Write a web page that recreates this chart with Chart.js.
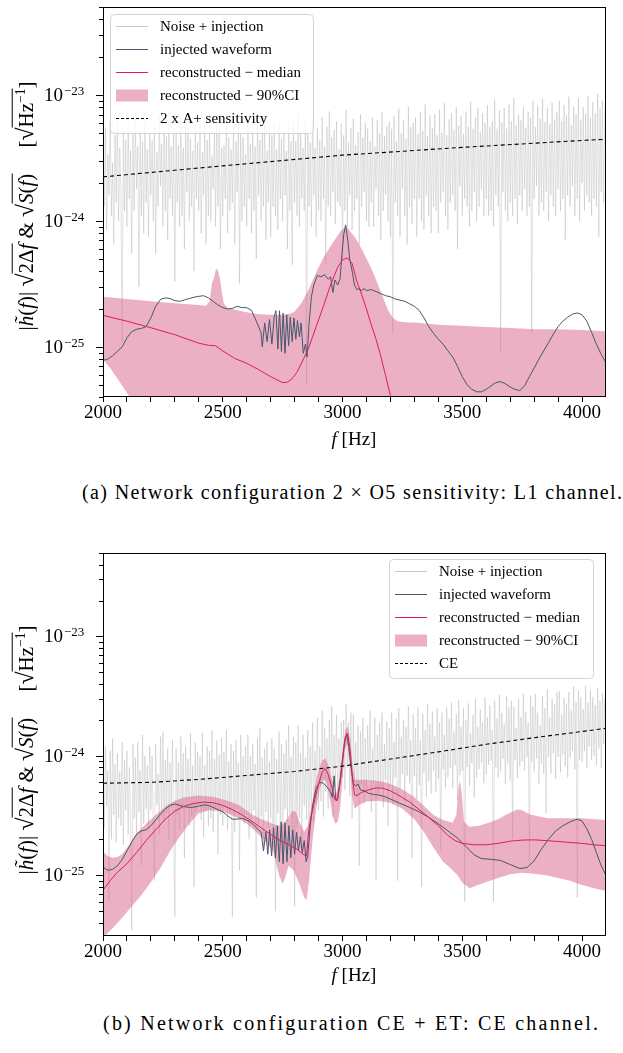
<!DOCTYPE html>
<html>
<head>
<meta charset="utf-8">
<script src="https://cdn.jsdelivr.net/npm/chart.js@4.4.1/dist/chart.umd.min.js"></script>
<style>
html, body { margin: 0; padding: 0; background: #fff; }
body { width: 623px; height: 1053px; position: relative; overflow: hidden; font-family: "Liberation Serif", "Times New Roman", serif; color: #000; }
canvas { position: absolute; left: 0; }
#c1 { top: 0; }
#c2 { top: 546px; }
.ylab { position: absolute; white-space: nowrap; font-size: 21px; line-height: 1.3; transform: translate(-50%, -50%) rotate(-90deg); }
.ov { border-top: 1.1px solid #000; padding-top: 1px; }
.rad { font-size: 1.12em; }
.xlab { position: absolute; white-space: nowrap; font-size: 19px; transform: translate(-50%, -50%); }
.cap { position: absolute; white-space: nowrap; font-size: 20px; transform: translateY(-50%); }
</style>
</head>
<body>
<canvas id="c1" width="623" height="460"></canvas>
<canvas id="c2" width="623" height="460"></canvas>

<div class="ylab" style="left:25px; top:206px;">|<i>h&#771;</i>(<i>f</i>)| <span class="rad">√</span><span class="ov">2Δ<i>f</i></span> &amp; <span class="rad">√</span><span class="ov"><i>S</i>(<i>f</i>)</span>&nbsp;&nbsp;&nbsp;&nbsp; [<span class="rad">√</span><span class="ov">Hz<sup style="font-size:0.65em">−1</sup></span>]</div>
<div class="ylab" style="left:25px; top:750px;">|<i>h&#771;</i>(<i>f</i>)| <span class="rad">√</span><span class="ov">2Δ<i>f</i></span> &amp; <span class="rad">√</span><span class="ov"><i>S</i>(<i>f</i>)</span>&nbsp;&nbsp;&nbsp;&nbsp; [<span class="rad">√</span><span class="ov">Hz<sup style="font-size:0.65em">−1</sup></span>]</div>

<div class="xlab" style="left:354px; top:439px;"><i>f</i> [Hz]</div>
<div class="xlab" style="left:354px; top:975px;"><i>f</i> [Hz]</div>

<div class="cap" id="capA" style="left:82px; top:492px;">(a) Network configuration 2 × O5 sensitivity: L1 channel.</div>
<div class="cap" id="capB" style="left:103px; top:1023px;">(b) Network configuration CE + ET: CE channel.</div>

<script>
// ---- panel (a): 2 x O5, L1 channel ----
// noise is sampled every 5 Hz from 2000 Hz
const topNoiseStart = 2000;
const topNoiseStep = 5;
const topNoise = [
  4.2e-24, 1.3e-24, 5.5e-24, 0.85e-24, 3.4e-24, 1.6e-24, 6.1e-24, 1.1e-24, 2.9e-24, 0.65e-24, 4.8e-24, 1.4e-24, 6.0e-24, 1.0e-24, 3.8e-24, 1.7e-24, 0.11e-24, 5.2e-24, 1.2e-24, 4.4e-24,
  0.9e-24, 5.8e-24, 1.5e-24, 3.6e-24, 0.55e-24, 4.9e-24, 1.2e-24, 6.3e-24, 1.8e-24, 3.9e-24, 0.3e-24, 5.1e-24, 1.1e-24, 4.3e-24, 0.8e-24, 6.4e-24, 1.4e-24, 3.7e-24, 0.75e-24, 5.0e-24,
  1.6e-24, 4.4e-24, 1.0e-24, 5.6e-24, 0.55e-24, 3.5e-24, 1.3e-24, 6.8e-24, 1.9e-24, 4.1e-24, 0.9e-24, 5.3e-24, 1.2e-24, 4.7e-24, 0.7e-24, 6.0e-24, 1.5e-24, 3.9e-24, 1.1e-24, 5.5e-24,
  0.33e-24, 5.3e-24, 1.4e-24, 4.0e-24, 0.9e-24, 6.5e-24, 1.1e-24, 3.8e-24, 0.6e-24, 5.7e-24, 1.7e-24, 6.2e-24, 1.0e-24, 4.5e-24, 1.3e-24, 3.6e-24, 0.4e-24, 5.9e-24, 1.5e-24, 4.2e-24,
  1.2e-24, 5.9e-24, 0.8e-24, 3.5e-24, 1.6e-24, 6.6e-24, 0.65e-24, 4.4e-24, 1.1e-24, 5.1e-24, 1.0e-24, 3.3e-24, 1.8e-24, 4.9e-24, 0.9e-24, 7.0e-24, 1.3e-24, 5.4e-24, 0.6e-24, 3.8e-24,
  1.1e-24, 4.0e-24, 1.5e-24, 7.0e-24, 0.8e-24, 4.6e-24, 1.2e-24, 3.7e-24, 1.4e-24, 5.8e-24, 0.65e-24, 4.3e-24, 1.7e-24, 6.2e-24, 0.32e-24, 5.0e-24, 1.0e-24, 4.6e-24, 1.3e-24, 3.4e-24,
  0.9e-24, 6.3e-24, 1.5e-24, 4.1e-24, 0.8e-24, 5.5e-24, 1.2e-24, 3.9e-24, 0.5e-24, 6.7e-24, 1.6e-24, 4.4e-24, 1.0e-24, 5.1e-24, 1.3e-24, 6.9e-24, 0.7e-24, 3.6e-24, 1.4e-24, 5.3e-24,
  0.75e-24, 4.8e-24, 1.3e-24, 5.9e-24, 1.1e-24, 3.7e-24, 0.85e-24, 6.0e-24, 1.5e-24, 4.5e-24, 1.0e-24, 5.2e-24, 1.6e-24, 3.6e-24, 0.6e-24, 5.7e-24, 1.2e-24, 4.3e-24, 0.45e-24, 6.4e-24,
  1.4e-24, 4.3e-24, 1.1e-24, 7.2e-24, 0.9e-24, 4.9e-24, 1.5e-24, 3.8e-24, 1.2e-24, 6.1e-24, 0.05e-24, 5.0e-24, 1.3e-24, 4.2e-24, 0.9e-24, 6.7e-24, 1.6e-24, 3.8e-24, 0.75e-24, 5.5e-24,
  1.2e-24, 4.4e-24, 1.0e-24, 6.7e-24, 1.5e-24, 3.9e-24, 0.45e-24, 5.6e-24, 1.3e-24, 7.4e-24, 1.1e-24, 4.6e-24, 1.7e-24, 5.3e-24, 0.95e-24, 6.2e-24, 1.4e-24, 3.7e-24, 1.3e-24, 5.9e-24,
  0.5e-24, 4.8e-24, 1.2e-24, 7.6e-24, 0.9e-24, 4.2e-24, 1.6e-24, 5.5e-24, 0.85e-24, 6.5e-24, 1.2e-24, 4.0e-24, 1.5e-24, 5.1e-24, 0.65e-24, 7.0e-24, 1.3e-24, 4.6e-24, 1.7e-24, 6.0e-24,
  1.0e-24, 5.4e-24, 0.9e-24, 4.3e-24, 1.4e-24, 6.6e-24, 0.9e-24, 3.9e-24, 1.8e-24, 6.3e-24, 1.1e-24, 5.0e-24, 0.7e-24, 7.3e-24, 1.2e-24, 4.7e-24, 1.6e-24, 5.6e-24, 1.0e-24, 6.1e-24,
  0.75e-24, 5.4e-24, 0.13e-24, 6.8e-24, 1.4e-24, 4.3e-24, 1.1e-24, 7.8e-24, 0.75e-24, 5.0e-24, 1.8e-24, 6.3e-24, 1.1e-24, 4.5e-24, 0.65e-24, 8.1e-24, 1.3e-24, 5.6e-24, 0.95e-24, 6.0e-24,
  1.5e-24, 6.6e-24, 0.75e-24, 4.9e-24, 1.5e-24, 7.3e-24, 1.0e-24, 5.2e-24, 0.85e-24, 8.4e-24, 1.6e-24, 4.7e-24, 1.1e-24, 6.9e-24, 0.8e-24, 5.5e-24, 1.3e-24, 7.0e-24, 1.2e-24, 4.8e-24,
  0.8e-24, 7.7e-24, 1.4e-24, 5.0e-24, 1.7e-24, 8.6e-24, 1.1e-24, 4.8e-24, 0.85e-24, 6.4e-24, 1.4e-24, 7.1e-24, 1.6e-24, 5.3e-24, 1.2e-24, 8.0e-24, 0.6e-24, 5.7e-24, 1.9e-24, 6.8e-24,
  1.1e-24, 4.9e-24, 1.5e-24, 7.4e-24, 1.3e-24, 5.6e-24, 0.9e-24, 8.9e-24, 1.2e-24, 5.4e-24, 1.7e-24, 6.6e-24, 1.0e-24, 7.9e-24, 1.3e-24, 5.1e-24, 1.8e-24, 7.2e-24, 1.1e-24, 6.0e-24,
  1.5e-24, 8.3e-24, 1.1e-24, 5.6e-24, 1.2e-24, 6.2e-24, 0.9e-24, 9.2e-24, 1.6e-24, 5.4e-24, 1.3e-24, 7.6e-24, 0.09e-24, 6.1e-24, 1.7e-24, 7.9e-24, 1.2e-24, 5.4e-24, 1.0e-24, 8.4e-24,
  1.4e-24, 6.2e-24, 1.1e-24, 9.5e-24, 1.5e-24, 5.8e-24, 0.95e-24, 7.0e-24, 1.6e-24, 6.3e-24, 1.2e-24, 8.0e-24, 1.8e-24, 5.5e-24, 1.1e-24, 7.4e-24, 1.3e-24, 6.6e-24, 0.13e-24, 9.0e-24,
  1.5e-24, 5.6e-24, 1.9e-24, 8.2e-24, 1.1e-24, 6.5e-24, 1.4e-24, 9.4e-24, 1.2e-24, 6.1e-24, 1.7e-24, 7.9e-24, 1.0e-24, 5.9e-24, 1.6e-24, 8.7e-24, 1.3e-24, 6.4e-24, 1.1e-24, 7.3e-24,
  1.8e-24, 9.0e-24, 1.2e-24, 6.2e-24, 1.5e-24, 8.3e-24, 0.7e-24, 6.9e-24, 1.6e-24, 9.7e-24, 1.3e-24, 5.8e-24, 1.9e-24, 8.1e-24, 1.1e-24, 7.0e-24, 1.5e-24, 9.5e-24, 1.0e-24, 6.3e-24,
  2.0e-24, 8.0e-24, 1.2e-24, 7.1e-24, 1.6e-24, 9.8e-24, 1.4e-24, 6.6e-24, 1.1e-24, 8.8e-24, 1.5e-24, 7.2e-24, 1.3e-24, 10.2e-24, 0.75e-24, 7.8e-24, 1.7e-24, 9.0e-24, 1.4e-24, 6.9e-24,
  10.5e-24
];
const topInjected = [
  [2000, 7.8e-26], [2020, 8.0e-26], [2040, 8.5e-26], [2060, 9.2e-26], [2080, 1.0e-25], [2100, 1.18e-25],
  [2120, 1.32e-25], [2140, 1.38e-25], [2160, 1.40e-25], [2180, 1.45e-25], [2200, 1.7e-25], [2220, 2.1e-25],
  [2240, 2.38e-25], [2260, 2.45e-25], [2280, 2.42e-25], [2300, 2.33e-25], [2320, 2.3e-25], [2340, 2.36e-25],
  [2360, 2.42e-25], [2380, 2.48e-25], [2400, 2.52e-25], [2420, 2.55e-25], [2440, 2.45e-25], [2460, 2.3e-25],
  [2480, 2.15e-25], [2500, 2.05e-25], [2520, 2.0e-25], [2540, 2.02e-25], [2560, 2.1e-25], [2580, 2.05e-25],
  [2600, 2.05e-25], [2620, 1.95e-25], [2640, 1.6e-25], [2660, 1.3e-25],
  [2665, 1.0e-25], [2675, 1.55e-25], [2685, 1.1e-25], [2695, 1.65e-25], [2705, 1.05e-25], [2715, 1.75e-25],
  [2722, 1.94e-25], [2730, 9.6e-26], [2737, 1.94e-25], [2745, 9.2e-26], [2752, 1.85e-25], [2760, 8.9e-26],
  [2767, 1.8e-25], [2775, 1.02e-25], [2782, 1.72e-25], [2790, 1.1e-25], [2797, 1.7e-25], [2805, 1.15e-25],
  [2812, 1.62e-25], [2820, 1.2e-25], [2827, 1.55e-25], [2836, 8.9e-26], [2845, 1.05e-25], [2852, 8.3e-26],
  [2860, 1.5e-25], [2870, 2.5e-25], [2880, 3.1e-25], [2895, 3.7e-25], [2910, 3.6e-25], [2925, 3.75e-25],
  [2940, 3.45e-25], [2950, 3.6e-25], [2960, 2.7e-25], [2968, 3.4e-25], [2980, 3.1e-25], [2990, 3.5e-25],
  [2998, 5.5e-25], [3005, 7.8e-25], [3013, 9.3e-25], [3022, 7.0e-25], [3030, 5.0e-25], [3040, 4.0e-25],
  [3050, 3.1e-25], [3060, 2.85e-25], [3070, 2.9e-25], [3080, 2.8e-25], [3090, 2.9e-25], [3100, 2.8e-25],
  [3120, 2.85e-25], [3140, 2.75e-25], [3160, 2.65e-25], [3180, 2.55e-25], [3200, 2.5e-25], [3220, 2.4e-25],
  [3240, 2.35e-25], [3260, 2.3e-25], [3280, 2.2e-25], [3300, 2.1e-25], [3320, 1.95e-25], [3340, 1.7e-25],
  [3360, 1.45e-25], [3380, 1.28e-25], [3400, 1.15e-25], [3420, 1.05e-25], [3440, 9.3e-26], [3460, 8.3e-26],
  [3480, 7.0e-26], [3500, 5.8e-26], [3520, 5.0e-26], [3540, 4.6e-26], [3560, 4.4e-26], [3580, 4.4e-26],
  [3600, 4.6e-26], [3620, 4.9e-26], [3640, 5.2e-26], [3660, 5.3e-26], [3680, 5.1e-26], [3700, 4.8e-26],
  [3720, 4.6e-26], [3740, 4.5e-26], [3760, 4.9e-26], [3780, 5.8e-26], [3800, 6.8e-26], [3820, 8.0e-26],
  [3840, 9.3e-26], [3860, 1.08e-25], [3880, 1.26e-25], [3900, 1.45e-25], [3920, 1.6e-25], [3940, 1.72e-25],
  [3960, 1.82e-25], [3980, 1.86e-25], [4000, 1.8e-25], [4020, 1.6e-25], [4040, 1.3e-25], [4060, 1.05e-25],
  [4080, 8.7e-26], [4100, 7.5e-26]
];
const topMedian = [
  [2000, 1.78e-25], [2100, 1.6e-25], [2200, 1.42e-25], [2300, 1.25e-25], [2400, 1.07e-25], [2440, 1.03e-25],
  [2470, 1.02e-25], [2500, 9.3e-26], [2550, 8.1e-26], [2600, 7.4e-26], [2650, 6.6e-26], [2700, 5.8e-26],
  [2750, 5.2e-26], [2770, 5.25e-26], [2790, 5.6e-26], [2810, 6.3e-26], [2830, 7.5e-26], [2860, 1.0e-25],
  [2890, 1.45e-25], [2920, 2.1e-25], [2950, 3.1e-25], [2980, 4.3e-25], [3000, 4.9e-25], [3020, 5.1e-25],
  [3040, 4.6e-25], [3060, 3.3e-25], [3080, 2.6e-25], [3100, 2.0e-25], [3120, 1.5e-25], [3140, 1.15e-25],
  [3160, 8.4e-26], [3180, 5.9e-26], [3200, 4.1e-26], [3220, 2.8e-26]
];
const topCiUpper = [
  [2000, 2.5e-25], [2100, 2.4e-25], [2200, 2.3e-25], [2300, 2.22e-25], [2400, 2.15e-25], [2430, 2.12e-25],
  [2445, 2.3e-25], [2455, 3.2e-25], [2465, 3.6e-25], [2472, 4.2e-25], [2480, 4.0e-25], [2488, 3.5e-25],
  [2495, 2.8e-25], [2505, 2.2e-25], [2520, 2.05e-25], [2560, 1.95e-25], [2600, 1.88e-25], [2650, 1.82e-25],
  [2700, 1.8e-25], [2750, 1.79e-25], [2780, 1.83e-25], [2800, 1.9e-25], [2830, 2.25e-25], [2860, 2.9e-25],
  [2890, 3.9e-25], [2920, 5.1e-25], [2950, 6.3e-25], [2970, 7.2e-25], [2990, 8.2e-25], [3010, 8.9e-25],
  [3020, 8.9e-25], [3031, 8.3e-25], [3050, 7.5e-25], [3070, 6.5e-25], [3090, 5.5e-25], [3110, 4.6e-25],
  [3130, 3.8e-25], [3150, 3.05e-25], [3170, 2.45e-25], [3190, 1.95e-25], [3210, 1.7e-25], [3230, 1.6e-25],
  [3260, 1.57e-25], [3300, 1.56e-25], [3400, 1.5e-25], [3500, 1.47e-25], [3600, 1.44e-25], [3700, 1.41e-25],
  [3800, 1.38e-25], [3900, 1.38e-25], [4000, 1.36e-25], [4100, 1.33e-25]
];
const topCiLower = [
  [2000, 8.0e-26], [2030, 6.8e-26], [2060, 5.6e-26], [2090, 4.6e-26], [2120, 3.8e-26], [2150, 3.1e-26],
  [2200, 2.2e-26], [2300, 1.5e-26], [3000, 1.2e-26], [4100, 1.0e-26]
];
const topSensitivity = [
  [2000, 2.24e-24], [2500, 2.74e-24], [3000, 3.33e-24], [3500, 3.84e-24], [4000, 4.36e-24], [4100, 4.45e-24]
];

// ---- panel (b): CE + ET, CE channel ----
const botNoiseStart = 2000;
const botNoiseStep = 5;
const botNoise = [
  9.0e-25, 2.5e-25, 12e-25, 3.8e-25, 7.5e-25, 0.6e-25, 11e-25, 2.0e-25, 14e-25, 3.2e-25, 8.5e-25, 1.9e-25, 10.5e-25, 3.0e-25, 7.4e-25, 2.6e-25, 13e-25, 1.8e-25, 9.2e-25, 3.5e-25,
  11e-25, 2.2e-25, 8.0e-25, 3.1e-25, 0.35e-25, 12.5e-25, 3.0e-25, 9.6e-25, 2.1e-25, 13e-25, 3.4e-25, 7.6e-25, 1.2e-25, 15e-25, 2.7e-25, 10e-25, 3.6e-25, 8.3e-25, 2.4e-25, 12e-25,
  3.5e-25, 10e-25, 2.6e-25, 0.9e-25, 12.5e-25, 3.9e-25, 7.0e-25, 2.2e-25, 14.5e-25, 3.1e-25, 16e-25, 2.8e-25, 9.2e-25, 3.3e-25, 11.5e-25, 2.0e-25, 8.8e-25, 3.7e-25, 13.5e-25, 2.5e-25,
  0.45e-25, 11.5e-25, 3.2e-25, 8.8e-25, 2.4e-25, 14.5e-25, 3.6e-25, 10.5e-25, 1.4e-25, 12e-25, 3.9e-25, 9.4e-25, 2.6e-25, 15.5e-25, 3.1e-25, 8.3e-25, 0.8e-25, 13e-25, 3.4e-25, 10.8e-25,
  3.9e-25, 9.9e-25, 2.9e-25, 15.5e-25, 2.1e-25, 8.3e-25, 3.4e-25, 12e-25, 2.6e-25, 11e-25, 3.0e-25, 16.5e-25, 2.3e-25, 9.5e-25, 3.7e-25, 13.5e-25, 1.5e-25, 10.2e-25, 3.2e-25, 14e-25,
  2.6e-25, 10.8e-25, 3.7e-25, 16.5e-25, 2.4e-25, 9.0e-25, 3.3e-25, 12.5e-25, 0.45e-25, 11e-25, 2.3e-25, 13.5e-25, 3.6e-25, 8.7e-25, 1.1e-25, 15e-25, 3.2e-25, 9.9e-25, 2.7e-25, 12e-25,
  3.2e-25, 15e-25, 2.0e-25, 10e-25, 2.9e-25, 12.5e-25, 3.5e-25, 8.6e-25, 0.65e-25, 14e-25, 2.7e-25, 17e-25, 3.1e-25, 9.7e-25, 1.7e-25, 11.5e-25, 3.4e-25, 13e-25, 2.5e-25, 8.9e-25,
  3.0e-25, 14e-25, 2.4e-25, 11.5e-25, 0.5e-25, 9.4e-25, 3.3e-25, 16e-25, 2.6e-25, 12.5e-25, 1.3e-25, 10.5e-25, 3.6e-25, 13.5e-25, 2.8e-25, 18e-25, 3.3e-25, 9.8e-25, 2.2e-25, 14.5e-25,
  0.55e-25, 13e-25, 2.5e-25, 18e-25, 3.0e-25, 10.5e-25, 1.6e-25, 15e-25, 3.8e-25, 9.7e-25, 2.9e-25, 16.5e-25, 2.2e-25, 12e-25, 3.5e-25, 19e-25, 2.8e-25, 11e-25, 4.0e-25, 21e-25,
  3.5e-25, 12e-25, 4.2e-25, 24e-25, 3.1e-25, 17e-25, 5.0e-25, 14e-25, 3.6e-25, 20e-25, 4.4e-25, 26e-25, 3.1e-25, 15e-25, 5.5e-25, 22e-25, 4.4e-25, 14e-25, 6.0e-25, 19e-25,
  6.5e-25, 20e-25, 5.2e-25, 27e-25, 8.0e-25, 19e-25, 4.6e-25, 23e-25, 3.0e-25, 22e-25, 6.0e-25, 13e-25, 4.6e-25, 18e-25, 1.2e-25, 16e-25, 5.8e-25, 21e-25, 4.0e-25, 14e-25,
  5.2e-25, 18e-25, 6.3e-25, 24e-25, 3.4e-25, 11.5e-25, 6.0e-25, 21e-25, 0.9e-25, 15e-25, 4.8e-25, 19e-25, 5.5e-25, 23e-25, 3.7e-25, 12.5e-25, 6.3e-25, 19.5e-25, 2.6e-25, 17e-25,
  5.5e-25, 23e-25, 3.9e-25, 13e-25, 6.6e-25, 20.5e-25, 0.9e-25, 25e-25, 5.2e-25, 14.5e-25, 7.0e-25, 20e-25, 4.1e-25, 17.5e-25, 6.8e-25, 26e-25, 5.9e-25, 13.5e-25, 1.4e-25, 22e-25,
  6.8e-25, 17e-25, 4.3e-25, 25.5e-25, 5.7e-25, 13.5e-25, 0.8e-25, 22.5e-25, 7.2e-25, 16.5e-25, 4.5e-25, 27e-25, 6.1e-25, 18.5e-25, 4.8e-25, 23.5e-25, 7.5e-25, 14.5e-25, 5.0e-25, 25e-25,
  6.4e-25, 19e-25, 1.6e-25, 23e-25, 7.7e-25, 15e-25, 5.3e-25, 25.5e-25, 6.6e-25, 20.5e-25, 7.9e-25, 28e-25, 5.4e-25, 16e-25, 8.4e-25, 22.5e-25, 4.2e-25, 29.5e-25, 6.9e-25, 17.5e-25,
  7.5e-25, 25e-25, 0.6e-25, 20e-25, 8.1e-25, 27.5e-25, 5.6e-25, 15.5e-25, 8.7e-25, 22e-25, 4.5e-25, 30e-25, 6.6e-25, 17.5e-25, 7.7e-25, 24.5e-25, 8.8e-25, 19e-25, 5.9e-25, 31e-25,
  7.0e-25, 21e-25, 8.4e-25, 26.5e-25, 9.1e-25, 16.5e-25, 0.6e-25, 29e-25, 8.0e-25, 20.5e-25, 6.6e-25, 32.5e-25, 7.4e-25, 23e-25, 9.5e-25, 18.5e-25, 5.8e-25, 31.5e-25, 8.6e-25, 25.5e-25,
  6.2e-25, 29e-25, 2.0e-25, 26e-25, 9.3e-25, 17e-25, 6.5e-25, 30e-25, 8.2e-25, 21e-25, 9.0e-25, 33e-25, 7.6e-25, 23.5e-25, 9.8e-25, 19e-25, 1.3e-25, 32e-25, 8.9e-25, 26e-25,
  7.4e-25, 33e-25, 9.5e-25, 23e-25, 5.8e-25, 18e-25, 8.6e-25, 32e-25, 7.1e-25, 25e-25, 3.3e-25, 36e-25, 9.8e-25, 21e-25, 7.1e-25, 30e-25, 10.5e-25, 27e-25, 6.4e-25, 34e-25,
  9.8e-25, 35e-25, 7.3e-25, 22e-25, 10.2e-25, 30.5e-25, 8.2e-25, 27.5e-25, 6.6e-25, 34.5e-25, 9.6e-25, 24e-25, 11e-25, 38e-25, 7.7e-25, 28.5e-25, 0.65e-25, 35e-25, 9.3e-25, 31e-25,
  8.9e-25, 24.5e-25, 11e-25, 38.5e-25, 7.9e-25, 28e-25, 12e-25, 35.5e-25, 9.3e-25, 31e-25, 10e-25, 26.5e-25, 8.4e-25, 37e-25, 11.5e-25, 29e-25, 7.9e-25, 33.5e-25, 12.5e-25, 30e-25,
  13e-25
];
const botInjected = [
  [2000, 1.17e-25], [2020, 1.1e-25], [2040, 1.12e-25], [2060, 1.2e-25], [2080, 1.35e-25], [2100, 1.6e-25],
  [2120, 1.9e-25], [2140, 2.2e-25], [2160, 2.35e-25], [2180, 2.4e-25], [2200, 2.6e-25], [2220, 2.9e-25],
  [2240, 3.25e-25], [2260, 3.6e-25], [2280, 3.85e-25], [2300, 3.95e-25], [2320, 3.85e-25], [2340, 3.75e-25],
  [2360, 3.7e-25], [2380, 3.72e-25], [2400, 3.8e-25], [2420, 3.88e-25], [2440, 3.85e-25], [2460, 3.7e-25],
  [2480, 3.55e-25], [2500, 3.4e-25], [2520, 3.15e-25], [2540, 2.95e-25], [2560, 2.95e-25], [2580, 3.0e-25],
  [2600, 2.9e-25], [2620, 2.75e-25], [2640, 2.5e-25], [2660, 2.3e-25],
  [2670, 1.6e-25], [2680, 2.3e-25], [2688, 1.5e-25], [2696, 2.4e-25], [2704, 1.45e-25], [2712, 2.5e-25],
  [2720, 1.4e-25], [2728, 2.6e-25], [2736, 1.3e-25], [2744, 2.8e-25], [2752, 1.25e-25], [2760, 2.75e-25],
  [2768, 1.3e-25], [2776, 2.6e-25], [2784, 1.4e-25], [2792, 2.4e-25], [2800, 1.5e-25], [2808, 2.3e-25],
  [2816, 1.6e-25], [2824, 2.1e-25], [2832, 1.55e-25], [2840, 1.95e-25], [2848, 1.3e-25], [2855, 1.45e-25],
  [2865, 2.6e-25], [2875, 3.8e-25], [2890, 5.4e-25], [2905, 6.0e-25], [2920, 5.9e-25], [2935, 5.5e-25],
  [2950, 5.0e-25], [2958, 4.5e-25], [2965, 6.8e-25], [2972, 4.3e-25], [2980, 4.4e-25], [2990, 6.0e-25],
  [3000, 9.0e-25], [3010, 1.35e-24], [3018, 1.5e-24], [3026, 1.2e-24], [3036, 8.0e-25], [3045, 5.9e-25],
  [3055, 5.6e-25], [3065, 5.8e-25], [3075, 5.2e-25], [3090, 5.1e-25], [3110, 4.85e-25], [3130, 4.75e-25],
  [3150, 4.7e-25], [3170, 4.6e-25], [3200, 4.35e-25], [3240, 4.0e-25], [3280, 3.7e-25], [3320, 3.4e-25],
  [3360, 3.05e-25], [3400, 2.7e-25], [3440, 2.35e-25], [3480, 2.05e-25], [3520, 1.7e-25], [3550, 1.48e-25],
  [3580, 1.38e-25], [3620, 1.36e-25], [3660, 1.33e-25], [3700, 1.23e-25], [3740, 1.14e-25], [3770, 1.16e-25],
  [3800, 1.32e-25], [3830, 1.65e-25], [3860, 2.0e-25], [3890, 2.35e-25], [3920, 2.6e-25], [3950, 2.8e-25],
  [3980, 2.95e-25], [4000, 2.85e-25], [4020, 2.45e-25], [4040, 2.0e-25], [4060, 1.55e-25], [4080, 1.2e-25],
  [4100, 1.0e-25]
];
const botMedian = [
  [2000, 7.5e-26], [2030, 9.0e-26], [2060, 1.06e-25], [2100, 1.25e-25], [2140, 1.55e-25], [2180, 1.95e-25],
  [2220, 2.4e-25], [2260, 2.95e-25], [2300, 3.45e-25], [2340, 3.8e-25], [2380, 4.0e-25], [2420, 4.1e-25],
  [2460, 4.05e-25], [2500, 3.85e-25], [2540, 3.55e-25], [2580, 3.2e-25], [2620, 2.85e-25], [2660, 2.5e-25],
  [2700, 2.2e-25], [2740, 1.95e-25], [2780, 1.78e-25], [2810, 1.65e-25], [2835, 1.5e-25], [2850, 1.45e-25],
  [2857, 2.2e-25], [2870, 3.2e-25], [2885, 4.4e-25], [2900, 5.8e-25], [2915, 7.3e-25], [2928, 7.8e-25],
  [2940, 7.0e-25], [2955, 5.5e-25], [2968, 4.3e-25], [2978, 4.2e-25], [2990, 6.2e-25], [3000, 9.5e-25],
  [3010, 1.4e-24], [3020, 1.55e-24], [3030, 1.2e-24], [3040, 7.0e-25], [3050, 4.7e-25], [3060, 4.65e-25],
  [3080, 4.95e-25], [3110, 5.2e-25], [3140, 5.4e-25], [3170, 5.35e-25], [3200, 5.1e-25], [3240, 4.6e-25],
  [3280, 4.1e-25], [3320, 3.55e-25], [3360, 3.05e-25], [3400, 2.6e-25], [3440, 2.15e-25], [3470, 1.95e-25],
  [3500, 1.85e-25], [3550, 1.8e-25], [3600, 1.8e-25], [3650, 1.85e-25], [3700, 1.93e-25], [3750, 1.97e-25],
  [3800, 1.98e-25], [3850, 1.95e-25], [3900, 1.92e-25], [3950, 1.88e-25], [4000, 1.85e-25], [4050, 1.8e-25],
  [4100, 1.77e-25]
];
const botCiUpper = [
  [2000, 1.58e-25], [2020, 1.45e-25], [2040, 1.4e-25], [2060, 1.42e-25], [2080, 1.5e-25], [2110, 1.8e-25],
  [2140, 2.25e-25], [2180, 2.7e-25], [2220, 3.2e-25], [2260, 3.75e-25], [2300, 4.2e-25], [2340, 4.5e-25],
  [2400, 4.65e-25], [2460, 4.55e-25], [2520, 4.2e-25], [2570, 3.85e-25], [2620, 3.25e-25], [2670, 2.9e-25],
  [2700, 2.75e-25], [2730, 2.6e-25], [2750, 2.65e-25], [2770, 3.0e-25], [2790, 3.45e-25], [2805, 3.4e-25],
  [2820, 2.8e-25], [2840, 2.3e-25], [2855, 2.6e-25], [2870, 3.7e-25], [2885, 5.6e-25], [2900, 7.6e-25],
  [2915, 9.2e-25], [2928, 9.5e-25], [2940, 8.5e-25], [2955, 6.5e-25], [2968, 4.7e-25], [2980, 5.2e-25],
  [2990, 7.3e-25], [3000, 1.1e-24], [3012, 1.65e-24], [3022, 1.75e-24], [3032, 1.4e-24], [3042, 8.5e-25],
  [3052, 6.3e-25], [3070, 6.3e-25], [3100, 6.3e-25], [3140, 6.2e-25], [3180, 6.0e-25], [3220, 5.6e-25],
  [3260, 5.1e-25], [3300, 4.5e-25], [3340, 3.8e-25], [3380, 3.2e-25], [3420, 2.9e-25], [3460, 2.75e-25],
  [3475, 3.2e-25], [3485, 5.5e-25], [3490, 6.2e-25], [3497, 5.0e-25], [3507, 2.8e-25], [3530, 2.55e-25],
  [3570, 2.6e-25], [3610, 2.75e-25], [3650, 2.95e-25], [3680, 3.2e-25], [3710, 3.4e-25], [3730, 3.55e-25],
  [3750, 3.5e-25], [3780, 3.25e-25], [3820, 3.1e-25], [3860, 3.0e-25], [3900, 3.0e-25], [3950, 3.0e-25],
  [4000, 3.0e-25], [4050, 2.95e-25], [4100, 2.9e-25]
];
const botCiLower = [
  [2000, 3.0e-26], [2040, 3.6e-26], [2080, 4.4e-26], [2120, 5.5e-26], [2160, 6.8e-26], [2200, 8.8e-26],
  [2240, 1.15e-25], [2280, 1.6e-25], [2320, 2.1e-25], [2360, 2.7e-25], [2400, 3.3e-25], [2440, 3.5e-25],
  [2480, 3.45e-25], [2520, 3.3e-25], [2560, 3.05e-25], [2600, 2.7e-25], [2640, 2.3e-25], [2680, 1.9e-25],
  [2710, 1.6e-25], [2735, 1.0e-25], [2750, 8.5e-26], [2760, 9.5e-26], [2775, 1.2e-25], [2795, 1.1e-25],
  [2820, 8.5e-26], [2840, 6.5e-26], [2850, 6.2e-26], [2860, 9.0e-26], [2875, 2.0e-25], [2890, 3.6e-25],
  [2905, 5.3e-25], [2920, 6.3e-25], [2930, 6.2e-25], [2945, 4.6e-25], [2960, 3.1e-25], [2970, 2.7e-25],
  [2980, 2.8e-25], [2990, 3.6e-25], [3000, 6.5e-25], [3010, 1.15e-24], [3020, 1.25e-24], [3030, 8.5e-25],
  [3040, 4.6e-25], [3050, 3.6e-25], [3070, 3.9e-25], [3100, 4.15e-25], [3150, 4.2e-25], [3200, 4.05e-25],
  [3250, 3.6e-25], [3300, 2.95e-25], [3340, 2.3e-25], [3380, 1.7e-25], [3420, 1.3e-25], [3450, 1.15e-25],
  [3480, 1.0e-25], [3500, 8.7e-26], [3530, 7.8e-26], [3560, 8.2e-26], [3600, 8.8e-26], [3650, 9.5e-26],
  [3700, 1.02e-25], [3750, 1.05e-25], [3800, 1.03e-25], [3850, 1.0e-25], [3900, 9.5e-26], [3950, 9.0e-26],
  [4000, 8.3e-26], [4050, 7.8e-26], [4100, 7.4e-26]
];
const botSensitivity = [
  [2000, 5.9e-25], [2200, 6.0e-25], [2400, 6.35e-25], [2600, 6.85e-25], [2800, 7.4e-25], [3000, 8.2e-25],
  [3200, 9.4e-25], [3400, 1.08e-24], [3600, 1.25e-24], [3800, 1.42e-24], [4000, 1.6e-24], [4100, 1.7e-24]
];

// axes
const xMajorTicks = [2000, 2500, 3000, 3500, 4000];
const xMinorStep = 100;

const FONT = "'Liberation Serif', 'Times New Roman', serif";
const RED = '#dc1c5c';
const SLATE = '#44566a';
const PINK = 'rgba(219,112,147,0.55)';
const NOISE = 'rgba(170,170,170,0.5)';

Chart.defaults.font.family = FONT;

function pairs(list) {
    return list.map(p => ({ x: p[0], y: p[1] }));
}

function evenPairs(start, step, vals) {
    return vals.map((v, i) => ({ x: start + i * step, y: v }));
}

// frame + log-axis ticks the way matplotlib draws them
const paperAxes = {
    id: 'paperAxes',
    afterDraw(chart) {
        const { ctx, chartArea: a } = chart;
        const y = chart.scales.y;
        ctx.save();
        ctx.strokeStyle = '#000';
        ctx.lineWidth = 1;
        ctx.strokeRect(a.left + 0.5, a.top + 0.5, a.right - a.left - 1, a.bottom - a.top - 1);

        y.ticks.forEach(t => {
            const py = Math.round(y.getPixelForValue(t.value)) + 0.5;
            const len = t.major ? 7 : 4;
            ctx.beginPath();
            ctx.moveTo(a.left, py);
            ctx.lineTo(a.left - len, py);
            ctx.stroke();
            if (t.major) {
                const e = Math.round(Math.log10(t.value));
                ctx.fillStyle = '#000';
                ctx.textBaseline = 'middle';
                ctx.textAlign = 'right';
                ctx.font = '19px ' + FONT;
                ctx.fillText('10', a.left - 40, py + 1);
                ctx.textAlign = 'left';
                ctx.textBaseline = 'alphabetic';
                ctx.font = '13px ' + FONT;
                ctx.fillText('\u2212' + (-e), a.left - 39, py - 1);
            }
        });
        ctx.restore();
    }
};

// legend box inside the axes (config kept in a closure, not in chart options)
function makeLegend(cfg) {
    return {
        id: 'paperLegend',
        afterDraw(chart) {
            const ctx = chart.ctx;
            const b = cfg.box;
            ctx.save();
            ctx.beginPath();
            ctx.roundRect(b.x + 0.5, b.y + 0.5, b.w, b.h, 4);
            ctx.fillStyle = 'rgba(255,255,255,0.8)';
            ctx.fill();
            ctx.strokeStyle = '#d4d4d4';
            ctx.lineWidth = 1;
            ctx.stroke();

            const hx = b.x + 6, hw = 32, tx = b.x + 50;
            cfg.items.forEach((it, i) => {
                const ry = Math.round(b.y + 12 + i * 23) + 0.5;
                if (it.fill) {
                    ctx.fillStyle = it.fill;
                    ctx.fillRect(hx, ry - 6, hw, 12);
                } else {
                    ctx.strokeStyle = it.color;
                    ctx.lineWidth = 1;
                    ctx.setLineDash(it.dash || []);
                    ctx.beginPath();
                    ctx.moveTo(hx, ry);
                    ctx.lineTo(hx + hw, ry);
                    ctx.stroke();
                    ctx.setLineDash([]);
                }
                ctx.fillStyle = '#000';
                ctx.font = '15px ' + FONT;
                ctx.textAlign = 'left';
                ctx.textBaseline = 'middle';
                ctx.fillText(it.label, tx, ry + 1);
            });
            ctx.restore();
        }
    };
}

function makePanel(id, p) {
    const legend = makeLegend({
        box: p.legendBox,
        items: [
            { label: 'Noise + injection', color: '#c8c8c8' },
            { label: 'injected waveform', color: SLATE },
            { label: 'reconstructed \u2212 median', color: RED },
            { label: 'reconstructed \u2212 90%CI', fill: PINK },
            { label: p.sensLabel, color: '#000', dash: [3, 2] }
        ]
    });
    return new Chart(document.getElementById(id), {
        type: 'line',
        data: {
            datasets: [
                { label: p.sensLabel, data: pairs(p.sens), borderColor: '#000', borderWidth: 1.1, borderDash: [4, 3], pointRadius: 0, order: 0 },
                { label: 'reconstructed - median', data: pairs(p.median), borderColor: RED, borderWidth: 1, pointRadius: 0, order: 1 },
                { label: 'injected waveform', data: pairs(p.injected), borderColor: SLATE, borderWidth: 1, pointRadius: 0, order: 2 },
                { label: 'ci upper', data: pairs(p.ciUpper), borderColor: 'rgba(0,0,0,0)', borderWidth: 0, pointRadius: 0, order: 3 },
                { label: 'reconstructed - 90%CI', data: pairs(p.ciLower), borderColor: 'rgba(0,0,0,0)', borderWidth: 0, pointRadius: 0, fill: '-1', backgroundColor: PINK, order: 4 },
                { label: 'Noise + injection', data: evenPairs(p.noiseStart, p.noiseStep, p.noise), borderColor: NOISE, borderWidth: 0.7, pointRadius: 0, order: 5 }
            ]
        },
        options: {
            responsive: false,
            animation: false,
            devicePixelRatio: 1,
            layout: { padding: { top: p.padTop, right: 17, left: 0, bottom: 0 } },
            plugins: {
                legend: { display: false },
                tooltip: { enabled: false }
            },
            scales: {
                x: {
                    type: 'linear',
                    min: 2000,
                    max: 4100,
                    afterBuildTicks(s) {
                        const t = [];
                        for (let v = xMajorTicks[0]; v <= xMajorTicks[xMajorTicks.length - 1]; v += xMinorStep) t.push({ value: v });
                        s.ticks = t;
                    },
                    ticks: {
                        autoSkip: false,
                        maxRotation: 0,
                        color: '#000',
                        padding: 0,
                        font: { family: FONT, size: 19 },
                        callback: v => xMajorTicks.includes(v) ? String(v) : ''
                    },
                    grid: { drawOnChartArea: false, tickLength: 5, tickColor: '#000', tickWidth: 1 },
                    border: { display: false },
                    afterFit(s) { s.height = p.xAxisH; }
                },
                y: {
                    type: 'logarithmic',
                    min: p.yMin,
                    max: p.yMax,
                    afterBuildTicks(s) {
                        const t = [];
                        for (let e = -27; e <= -22; e++) {
                            for (let k = 1; k <= 9; k++) {
                                const v = k * Math.pow(10, e);
                                if (v >= s.min && v <= s.max) t.push({ value: v, major: k === 1 });
                            }
                        }
                        s.ticks = t;
                    },
                    ticks: { display: false },
                    grid: { display: false },
                    border: { display: false },
                    afterFit(s) { s.width = 103; }
                }
            }
        },
        plugins: [paperAxes, legend]
    });
}

makePanel('c1', {
    noise: topNoise, noiseStart: topNoiseStart, noiseStep: topNoiseStep,
    injected: topInjected, median: topMedian, ciUpper: topCiUpper, ciLower: topCiLower,
    sens: topSensitivity, sensLabel: '2 x A+ sensitivity',
    yMin: 4.25e-26, yMax: 5.0e-23, padTop: 7, xAxisH: 63,
    legendBox: { x: 110, y: 14, w: 203, h: 119 }
});

makePanel('c2', {
    noise: botNoise, noiseStart: botNoiseStart, noiseStep: botNoiseStep,
    injected: botInjected, median: botMedian, ciUpper: botCiUpper, ciLower: botCiLower,
    sens: botSensitivity, sensLabel: 'CE',
    yMin: 3.1e-26, yMax: 5.0e-23, padTop: 7, xAxisH: 70,
    legendBox: { x: 389, y: 13, w: 204, h: 119 }
});

// stretch captions to the width they take in the paper
function fitWidth(id, target) {
    const el = document.getElementById(id);
    const w = el.getBoundingClientRect().width;
    const n = el.textContent.length;
    el.style.letterSpacing = ((target - w) / (n - 1)) + 'px';
}
fitWidth('capA', 540);
fitWidth('capB', 495);
</script>
</body>
</html>
